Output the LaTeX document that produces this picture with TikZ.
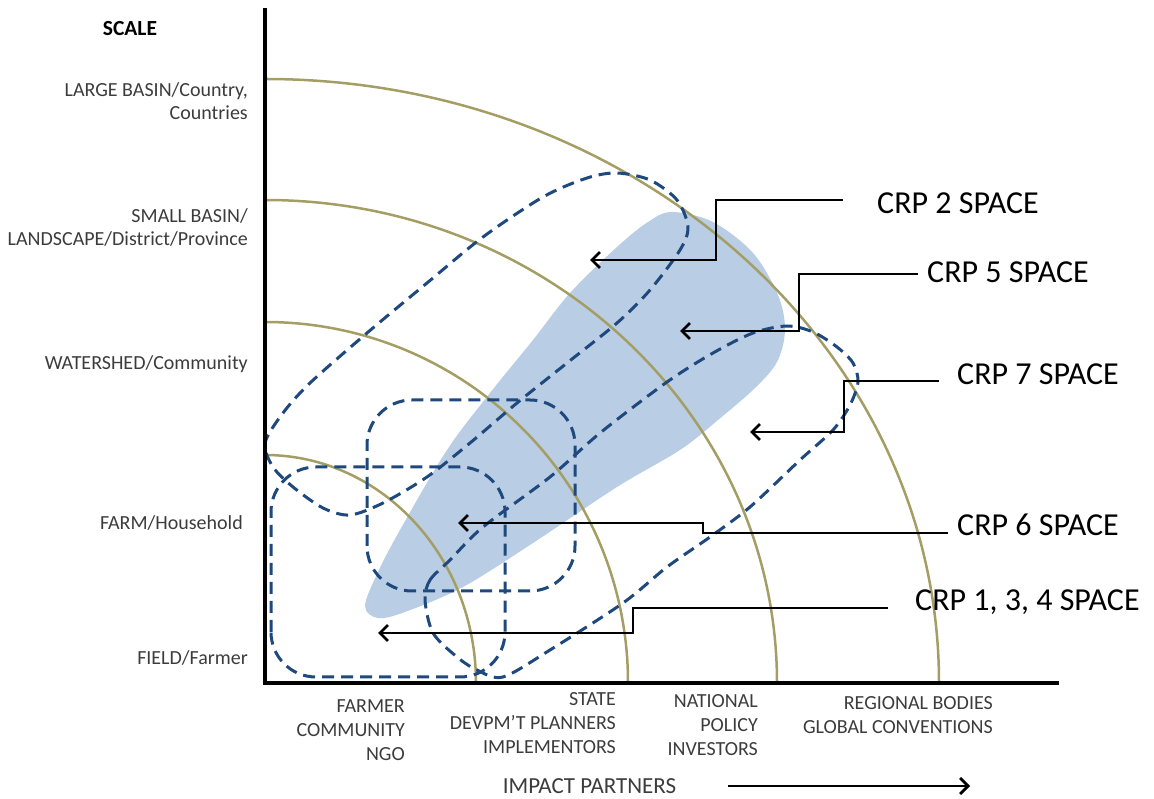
\documentclass[tikz,border=0pt]{standalone}
\usepackage{fontspec}
\setmainfont{Carlito}
\usetikzlibrary{arrows.meta}
\definecolor{ringcol}{RGB}{165,158,100}
\definecolor{zonefill}{RGB}{185,205,229}
\definecolor{zoneline}{RGB}{31,73,125}
\definecolor{labelgray}{RGB}{60,60,60}
\begin{document}
\begin{tikzpicture}[x=1pt,y=1pt,
  axisline/.style={line width=4.5pt,line join=miter},
  ring/.style={draw=ringcol,line width=2.5pt},
  zone/.style={draw=zoneline,line width=3pt,dash pattern=on 12pt off 7pt},
  pointer/.style={line width=2.8pt,-{Straight Barb[length=8pt,width=16pt]}},
  scalelab/.style={font=\fontsize{20}{23}\selectfont,text=labelgray,align=right,anchor=base east,inner sep=0pt},
  partnerlab/.style={font=\fontsize{20}{23.8}\selectfont,text=labelgray,align=right,anchor=base east,inner sep=0pt},
  crplab/.style={font=\fontsize{32}{38}\selectfont,anchor=base west,inner sep=0pt},
]
\useasboundingbox (0,0) rectangle (1154,798);
\coordinate (O) at (265,115);

% shaded core region
\fill[zonefill] plot[smooth cycle,tension=0.55] coordinates {
  (365,192) (378,226) (400,268) (447,348) (490,405) (533,458) (570,505)
  (617,551) (648,576) (672,586) (713,576) (753,545) (778,503) (785,468)
  (777,436) (755,410) (718,378) (680,348) (617,311) (533,255) (463,211)
  (405,186) (378,180)};

% scale rings
\draw[ring] (O) ++(0,228) arc[start angle=90,end angle=0,x radius=211,y radius=228];
\draw[ring] (O) ++(0,361) arc[start angle=90,end angle=0,x radius=363,y radius=361];
\draw[ring] (O) ++(0,483) arc[start angle=90,end angle=0,x radius=512,y radius=483];
\draw[ring] (O) ++(0,604) arc[start angle=90,end angle=0,x radius=674,y radius=604];

% CRP 2 space
\draw[zone] plot[smooth cycle,tension=0.5] coordinates {
  (265,355) (283,385) (310,415) (367,465) (427,515) (483,561) (543,601)
  (587,620) (617,625) (650,618) (677,598) (688,571) (680,548) (650,508)
  (617,475) (567,435) (517,395) (470,355) (427,321) (383,295) (350,283)
  (323,290) (293,311) (273,331)};
% CRP 7 space
\draw[zone] plot[smooth cycle,tension=0.5] coordinates {
  (425,198) (430,218) (450,238) (483,271) (550,321) (600,365) (667,416)
  (713,445) (753,465) (787,472) (813,466) (837,451) (853,435) (858,416)
  (850,393) (833,368) (800,338) (750,291) (710,261) (667,231) (623,195)
  (550,148) (503,121) (477,128) (457,141) (433,165)};
% CRP 6 space
\draw[zone,rounded corners=45pt] (367,207) rectangle (575,398);
% CRP 1, 3, 4 space
\draw[zone,rounded corners=45pt] (271,121) rectangle (505,331);

% axes
\draw[axisline] (265,790) -- (O) -- (1059,115);

% labels on the scale axis (base = baseline of the last line)
\node[font=\bfseries\fontsize{21.5}{25}\selectfont,anchor=base,inner sep=0pt] (scale) at (130,762.5) {SCALE};
\node[scalelab] (large) at (248,678.5) {LARGE BASIN/Country,\\Countries};
\node[scalelab] (small) at (248,552.5) {SMALL BASIN/\\LANDSCAPE/District/Province};
\node[scalelab] (water) at (248,428.5) {WATERSHED/Community};
\node[scalelab] (farm) at (243,268.5) {FARM/Household};
\node[scalelab] (field) at (248,133.5) {FIELD/Farmer};

% labels on the partner axis
\node[partnerlab] (farmer) at (405,37.5) {FARMER\\COMMUNITY\\NGO};
\node[partnerlab] (state) at (616,44.5) {STATE\\DEVPM'T PLANNERS\\IMPLEMENTORS};
\node[partnerlab] (national) at (758,42.5) {NATIONAL\\POLICY\\INVESTORS};
\node[partnerlab] (regional) at (993,64.5) {REGIONAL BODIES\\GLOBAL CONVENTIONS};
\node[font=\fontsize{23}{27}\selectfont,text=labelgray,anchor=base,inner sep=0pt] (impact) at (589.5,4.6) {IMPACT PARTNERS};
\coordinate (impA) at (728,12);
\coordinate (impB) at (970,12);
\draw[pointer] (impA) -- (impB);

% CRP labels and pointers
\node[crplab] (crp2) at (877,584.7) {CRP 2 SPACE};
\node[crplab] (crp5) at (927,515.7) {CRP 5 SPACE};
\node[crplab] (crp7) at (957,413.7) {CRP 7 SPACE};
\node[crplab] (crp6) at (957,262.7) {CRP 6 SPACE};
\node[crplab] (crp134) at (915,187.7) {CRP 1, 3, 4 SPACE};

\coordinate (c2s) at (843,598);  \coordinate (c2t) at (590,538);
\coordinate (c5s) at (918,524);  \coordinate (c5t) at (680,467);
\coordinate (c7s) at (939,417);  \coordinate (c7t) at (750,366);
\coordinate (c6s) at (948,265);  \coordinate (c6t) at (458,275);
\coordinate (c1s) at (888,190);  \coordinate (c1t) at (378,165);

\draw[pointer] (c2s) -- (716,598) -- (716,538) -- (c2t);
\draw[pointer] (c5s) -- (799,524) -- (799,467) -- (c5t);
\draw[pointer] (c7s) -- (844,417) -- (844,366) -- (c7t);
\draw[pointer] (c6s) -- (703,265) -- (703,275) -- (c6t);
\draw[pointer] (c1s) -- (633,190) -- (633,165) -- (c1t);
\end{tikzpicture}
\end{document}
